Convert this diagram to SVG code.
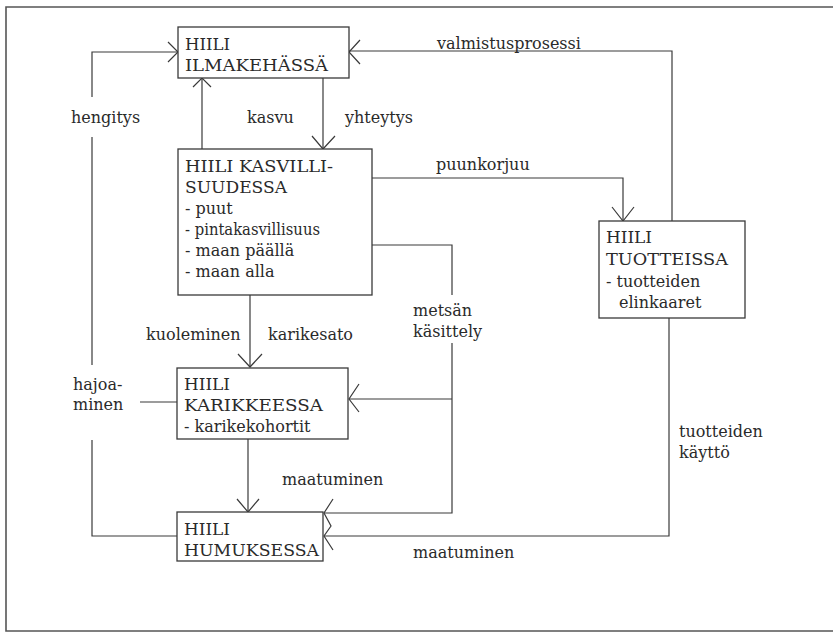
<svg xmlns="http://www.w3.org/2000/svg" width="833" height="632" viewBox="0 0 833 632">
<style>
text{font-family:"DejaVu Serif",serif;font-size:16px;fill:#2a2a2a}
.cap{font-size:17px}
.box{fill:#fff;stroke:#3a3a3a;stroke-width:1.3}
.ln{fill:none;stroke:#3a3a3a;stroke-width:1.2}
.ah{fill:none;stroke:#3a3a3a;stroke-width:1.2}
</style>
<rect width="833" height="632" fill="#fff"/>
<path d="M833,7 H6 V631 H833" fill="none" stroke="#555" stroke-width="1.6"/>
<g id="connectors">
<path class="ln" d="M177,536 H92 V440 M92,365 V137 M92,97 V52 H178"/>
<path class="ah" d="M168,42 L178,52 L168,62"/>
<path class="ln" d="M177,402 H140"/>
<path class="ln" d="M202,149 V78"/>
<path class="ah" d="M193,87 L202,78 L211,87"/>
<path class="ln" d="M323,78 V149"/>
<path class="ah" d="M312,136 L323,149 L335,136"/>
<path class="ln" d="M672,221 V51 H349"/>
<path class="ah" d="M360,40 L349,52 L360,64"/>
<path class="ln" d="M372,178 H623 V221"/>
<path class="ah" d="M612,207 L623,221 L634,207"/>
<path class="ln" d="M372,245 H452 V295 M452,343 V513 H324 M452,399 H349"/>
<path class="ah" d="M359,384 L349,399 L359,412"/>
<path class="ah" d="M333,499 L324,513 L331,526 L324,536 L333,550"/>
<path class="ln" d="M669,318 V536 H324"/>
<path class="ln" d="M250,295 V367"/>
<path class="ah" d="M238,354 L250,367 L262,354"/>
<path class="ln" d="M248,439 V512"/>
<path class="ah" d="M237,499 L248,512 L259,499"/>
</g>
<g id="labels">
<text x="71" y="123">hengitys</text>
<text x="247" y="123">kasvu</text>
<text x="345" y="123">yhteytys</text>
<text x="437" y="49">valmistusprosessi</text>
<text x="436" y="170">puunkorjuu</text>
<text x="413" y="316">metsän</text>
<text x="413" y="337">käsittely</text>
<text x="146" y="340">kuoleminen</text>
<text x="268" y="340">karikesato</text>
<text x="73" y="390">hajoa-</text>
<text x="73" y="410">minen</text>
<text x="282" y="485">maatuminen</text>
<text x="679" y="437">tuotteiden</text>
<text x="679" y="458">käyttö</text>
<text x="413" y="558">maatuminen</text>
</g>
<g id="ilmakehassa">
<rect class="box" x="178" y="27" width="171" height="51"/>
<text class="cap" x="185" y="50" textLength="45" lengthAdjust="spacingAndGlyphs">HIILI</text>
<text class="cap" x="185" y="71" textLength="143" lengthAdjust="spacingAndGlyphs">ILMAKEHÄSSÄ</text>
</g>
<g id="kasvillisuudessa">
<rect class="box" x="178" y="149" width="194" height="146"/>
<text class="cap" x="185" y="172" textLength="148" lengthAdjust="spacingAndGlyphs">HIILI KASVILLI-</text>
<text class="cap" x="185" y="193" textLength="102" lengthAdjust="spacingAndGlyphs">SUUDESSA</text>
<text x="185" y="214">- puut</text>
<text x="185" y="235" textLength="135" lengthAdjust="spacingAndGlyphs">- pintakasvillisuus</text>
<text x="185" y="256">- maan päällä</text>
<text x="185" y="277">- maan alla</text>
</g>
<g id="karikkeessa">
<rect class="box" x="177" y="368" width="171" height="71"/>
<text class="cap" x="184" y="390" textLength="46" lengthAdjust="spacingAndGlyphs">HIILI</text>
<text class="cap" x="184" y="411" textLength="139" lengthAdjust="spacingAndGlyphs">KARIKKEESSA</text>
<text x="184" y="432">- karikekohortit</text>
</g>
<g id="humuksessa">
<rect class="box" x="177" y="512" width="146" height="49"/>
<text class="cap" x="184" y="535" textLength="46" lengthAdjust="spacingAndGlyphs">HIILI</text>
<text class="cap" x="184" y="556" textLength="135" lengthAdjust="spacingAndGlyphs">HUMUKSESSA</text>
</g>
<g id="tuotteissa">
<rect class="box" x="599" y="221" width="146" height="97"/>
<text class="cap" x="606" y="243" textLength="46" lengthAdjust="spacingAndGlyphs">HIILI</text>
<text class="cap" x="606" y="265" textLength="122" lengthAdjust="spacingAndGlyphs">TUOTTEISSA</text>
<text x="606" y="287">- tuotteiden</text>
<text x="619" y="308">elinkaaret</text>
</g>
</svg>
